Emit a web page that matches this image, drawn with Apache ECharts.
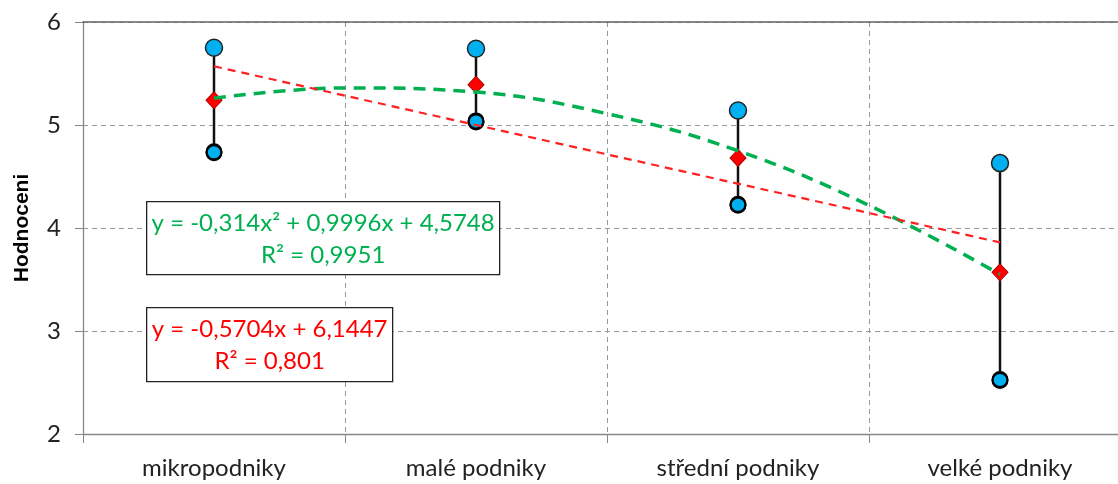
<!DOCTYPE html>
<html>
<head>
<meta charset="utf-8">
<script src="https://cdn.jsdelivr.net/npm/echarts@6/dist/echarts.min.js"></script>
<style>
	html, body { margin:0; padding:0; background:#fff; }
	#chart { width:1118px; height:484px; }
</style>
</head>
<body>
<div id="chart"></div>
<script>
	// hodnoty
	var categories = ['mikropodniky', 'malé podniky', 'střední podniky', 'velké podniky'];
	var highs = [5.75, 5.74, 5.14, 4.63];
	var lows = [4.74, 5.04, 4.23, 2.53];
	var means = [5.24, 5.39, 4.68, 3.57];
	// spojnice trendu (body odečtené z křivek)
	var polyX = [1, 1.5, 2, 2.5, 3, 3.5, 4];
	var polyY = [5.26, 5.36, 5.32, 5.11, 4.75, 4.22, 3.55];
	var linX = [1, 4];
	var linY = [5.57, 3.86];
	var polyText = ['y = -0,314x² + 0,9996x + 4,5748', 'R² = 0,9951'];
	var linText = ['y = -0,5704x + 6,1447', 'R² = 0,801'];

	var font = 'Lato, "Open Sans", sans-serif';
	var chart = echarts.init(document.getElementById('chart'));

	var pairs = function(xs, ys){
		var out = [];
		for(var i=0; i<xs.length; i++){
			out.push([xs[i], ys[i]]);
		}
		return out;
	}
	var idx = categories.map(function(c, i){ return i + 1; });

	var whiskers = [];
	for(var i=0; i<categories.length; i++){
		whiskers.push([i + 1, lows[i], highs[i]]);
	}

	var box = function(left, top, w, h, lines, color){
		return {
			type:'group', left:left, top:top, z:100,
			children:[
				{type:'rect', z:100, shape:{x:0, y:0, width:w, height:h},
					style:{fill:'#fff', stroke:'#222', lineWidth:1.3}},
				{type:'text', z:101, x:w/2, y:h/2 + 1, style:{
					text:lines.join('\n'), fill:color, font:'24px ' + font,
					align:'center', verticalAlign:'middle', lineHeight:32
				}}
			]
		}
	}

	chart.setOption({
		animation:false,
		grid:{left:83, top:22, bottom:50, right:-13, outerBoundsMode:'none'},
		xAxis:[{
			type:'category',
			data:categories,
			boundaryGap:true,
			axisLine:{lineStyle:{color:'#888', width:1.3}},
			axisTick:{show:true, interval:0, length:9, lineStyle:{color:'#888'}},
			axisLabel:{color:'#222', fontSize:24, fontFamily:font, margin:22},
			splitLine:{show:true, lineStyle:{color:'#999', type:[5, 4], width:1}}
		}, {
			type:'value', position:'top', min:0.5, max:4.5,
			axisLine:{show:true, lineStyle:{color:'#666', width:1.5}},
			axisTick:{show:false}, axisLabel:{show:false}, splitLine:{show:false}
		}],
		yAxis:{
			type:'value', min:2, max:6, interval:1,
			name:'Hodnoceni', nameLocation:'middle', nameGap:50, nameRotate:90,
			nameTextStyle:{color:'#000', fontSize:21, fontWeight:'bold',
				fontFamily:'"Liberation Sans", Arial, sans-serif'},
			axisLine:{show:true, lineStyle:{color:'#888', width:1.3}},
			axisTick:{show:true, length:8, lineStyle:{color:'#888'}},
			axisLabel:{color:'#222', fontSize:24, fontFamily:font, margin:22},
			splitLine:{show:true, lineStyle:{color:'#999', type:[5, 4], width:1}}
		},
		series:[{
			type:'custom', xAxisIndex:1, z:2,
			data:whiskers,
			renderItem:function(params, api){
				var p1 = api.coord([api.value(0), api.value(1)]);
				var p2 = api.coord([api.value(0), api.value(2)]);
				return {type:'line', shape:{x1:p1[0], y1:p1[1], x2:p2[0], y2:p2[1]},
					style:{stroke:'#111', lineWidth:2.5}};
			}
		}, {
			type:'scatter', xAxisIndex:1, z:3, symbol:'circle', symbolSize:17,
			data:pairs(idx, highs),
			itemStyle:{color:'#00B0F0', borderColor:'#222', borderWidth:1.5, opacity:1}
		}, {
			type:'scatter', xAxisIndex:1, z:3, symbol:'circle', symbolSize:15,
			data:pairs(idx, lows),
			itemStyle:{color:'#00B0F0', borderColor:'#000', borderWidth:2, opacity:1,
				shadowColor:'#000', shadowOffsetY:1, shadowBlur:0}
		}, {
			type:'scatter', xAxisIndex:1, z:4, symbol:'diamond', symbolSize:[16, 17],
			data:pairs(idx, means),
			itemStyle:{color:'#FF0000', borderColor:'#B00000', borderWidth:1, opacity:1}
		}, {
			type:'line', xAxisIndex:1, z:5, smooth:0.4, symbol:'none',
			data:pairs(polyX, polyY),
			lineStyle:{color:'#00B050', width:3.5, type:[12, 8]}
		}, {
			type:'line', xAxisIndex:1, z:5, symbol:'none',
			data:pairs(linX, linY),
			lineStyle:{color:'#FF2020', width:2.2, type:[8, 6]}
		}],
		graphic:[
			box(146, 201, 353, 73, polyText, '#00B050'),
			box(146, 307, 246, 74, linText, '#FF0000')
		]
	});
</script>
</body>
</html>
